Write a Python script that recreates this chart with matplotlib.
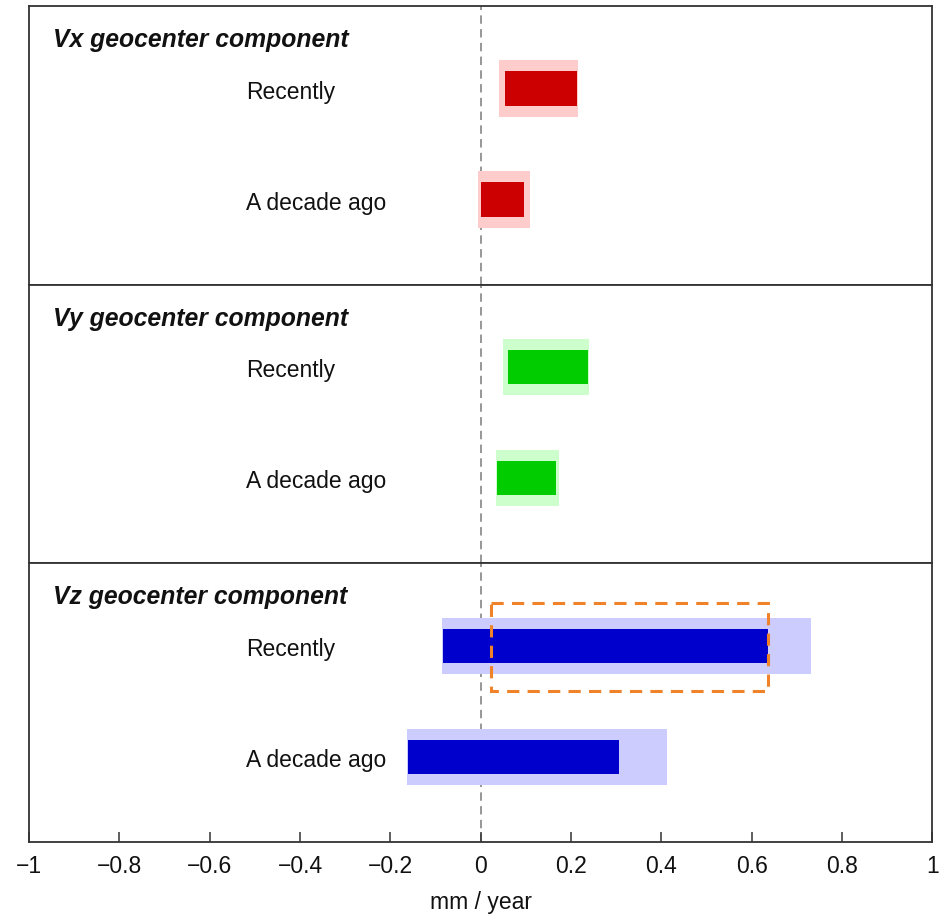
import matplotlib
matplotlib.use("Agg")
import matplotlib.pyplot as plt
from matplotlib.patches import Rectangle

plt.rcParams['font.family'] = ['Liberation Sans', 'DejaVu Sans']

# ---- data (mm / year) ----
components = ["Vx geocenter component", "Vy geocenter component", "Vz geocenter component"]
periods = ["Recently", "A decade ago"]

# (low, high) of the wide light band, one pair per period
vx_outer = [(0.040, 0.216), (-0.006, 0.110)]
vy_outer = [(0.050, 0.240), (0.034, 0.174)]
vz_outer = [(-0.085, 0.730), (-0.163, 0.413)]

# (low, high) of the narrow dark bar, one pair per period
vx_inner = [(0.054, 0.213), (0.000, 0.096)]
vy_inner = [(0.061, 0.238), (0.036, 0.167)]
vz_inner = [(-0.083, 0.635), (-0.160, 0.307)]

# dashed highlight box on the recent Vz estimate
vz_highlight = (0.023, 0.635)

x_ticks = [-1, -0.8, -0.6, -0.4, -0.2, 0, 0.2, 0.4, 0.6, 0.8, 1]
x_tick_labels = ["\u22121", "\u22120.8", "\u22120.6", "\u22120.4", "\u22120.2",
                 "0", "0.2", "0.4", "0.6", "0.8", "1"]
x_label = "mm / year"

outer_sets = [vx_outer, vy_outer, vz_outer]
inner_sets = [vx_inner, vy_inner, vz_inner]
dark_colors = ["#cc0000", "#00cc00", "#0000cc"]
light_colors = ["#ffcccc", "#ccffcc", "#ccccff"]

# ---- layout ----
W, H = 945, 920
fig = plt.figure(figsize=(W / 100, H / 100), dpi=100)
left_px, right_px = 29, 932.5
top_px, bottom_px = 7, 843
panel_h = (bottom_px - top_px) / 3

frame_color = "#333333"
text_color = "#111111"
axes = []
for i in range(3):
    y_top = top_px + i * panel_h
    ax = fig.add_axes([left_px / W, 1 - (y_top + panel_h) / H,
                       (right_px - left_px) / W, panel_h / H])
    axes.append(ax)

for i, ax in enumerate(axes):
    ax.set_xlim(-1, 1)
    ax.set_ylim(1.767, -0.743)
    ax.set_yticks([])
    for s in ax.spines.values():
        s.set_color(frame_color)
        s.set_linewidth(1.3)

    ypos = list(range(len(periods)))
    lo_o = [a for a, b in outer_sets[i]]
    w_o = [b - a for a, b in outer_sets[i]]
    lo_i = [a for a, b in inner_sets[i]]
    w_i = [b - a for a, b in inner_sets[i]]
    ax.barh(ypos, w_o, left=lo_o, height=0.51, color=light_colors[i],
            edgecolor="none", zorder=2)
    ax.barh(ypos, w_i, left=lo_i, height=0.31, color=dark_colors[i],
            edgecolor="none", zorder=3)

    # zero reference
    ax.axvline(0, color="#7a7a7a", lw=1.1, dashes=(5.5, 3.5), zorder=1)

    ax.text(-0.947, -0.445, components[i], fontsize=17.8, fontweight="bold",
            fontstyle="italic", ha="left", va="center", color=text_color)
    for y, lab in zip(ypos, periods):
        ax.text(-0.52, y + 0.025, lab, fontsize=16.5, ha="left", va="center",
                color=text_color)

    if i < 2:
        ax.tick_params(axis="x", which="both", bottom=False, labelbottom=False)
    else:
        ax.set_xticks(x_ticks)
        ax.set_xticklabels(x_tick_labels)
        ax.tick_params(axis="x", direction="in", length=7, width=1.1,
                       color=frame_color, labelsize=16.5, pad=9,
                       labelcolor=text_color)
        ax.set_xlabel(x_label, fontsize=16.5, labelpad=9, color=text_color)

# highlight on the recent Vz bar
hx0, hx1 = vz_highlight
axes[2].add_patch(Rectangle((hx0, -0.39), hx1 - hx0, 0.80, fill=False,
                            edgecolor="#f0822a", lw=2.2, ls=(0, (4, 2.7)),
                            zorder=5))

fig.savefig("out.png", dpi=100)
